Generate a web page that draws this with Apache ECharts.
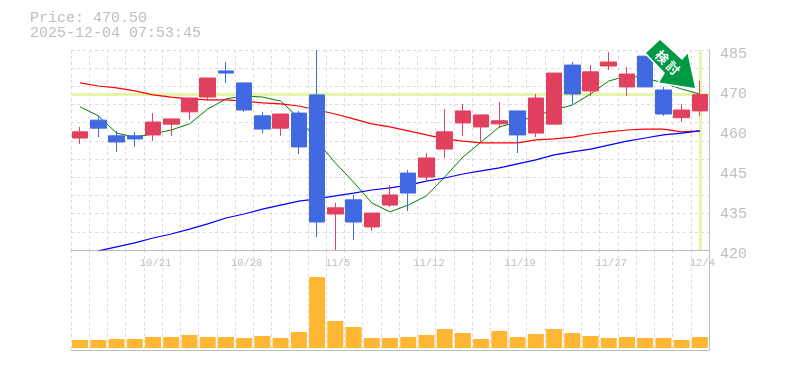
<!DOCTYPE html>
<html>
<head>
<meta charset="utf-8">
<style>html,body{margin:0;padding:0;background:#fff}#c{width:785px;height:370px}</style>
<script src="https://cdn.jsdelivr.net/npm/echarts@6/dist/echarts.min.js"></script>
</head>
<body>
<div id="c"></div>
<script>
const dates = ['10/15','10/16','10/17','10/20','10/21','10/22','10/23','10/24','10/27','10/28','10/29','10/30','10/31','11/4','11/5','11/6','11/7','11/10','11/11','11/12','11/13','11/14','11/17','11/18','11/19','11/20','11/21','11/25','11/26','11/27','11/28','12/1','12/2','12/3','12/4'];
const priceTicks = ['420','435','445','460','470','485'];
const opens  = [456.4,462.2,457.1,457.1,457.4,460.9,464.9,469.7,478.2,474.3,463.6,459.6,464.5,470.4,431.7,436.3,427.5,434.6,445.0,443.7,452.8,461.3,460.0,461.0,465.2,458.0,460.9,480.1,471.7,479.8,473.0,483.0,472.0,463.0,465.2];
const closes = [458.4,459.6,455.1,456.1,461.6,462.6,469.4,475.9,477.5,465.5,459.3,464.2,453.5,429.1,433.7,429.1,432.0,437.9,438.5,449.9,458.4,465.2,463.9,462.0,457.4,469.4,477.5,470.7,477.9,481.1,477.2,473.0,464.2,465.5,470.5];
const lows   = [454.5,456.7,451.9,453.5,455.4,457.1,462.3,468.4,474.3,464.9,458.0,457.1,451.2,424.2,420.0,423.3,426.2,434.0,432.7,442.1,449.9,457.1,454.8,459.6,451.5,456.7,460.9,467.5,470.1,478.5,470.1,473.0,463.6,461.6,463.6];
const highs  = [460.0,463.6,458.7,458.4,464.5,462.6,469.4,475.9,481.1,474.3,464.9,464.2,465.2,485.0,435.3,437.9,432.0,441.1,446.0,451.5,465.8,467.5,463.9,468.1,465.2,470.7,477.5,481.1,480.1,484.4,479.5,483.0,473.0,467.5,474.9];
const maShort = [466.5,463.6,458.0,456.7,457.7,459.0,461.0,465.8,469.1,470.1,469.7,468.4,462.9,455.4,448.3,442.1,435.3,432.4,434.6,437.6,443.7,450.2,455.1,460.0,461.6,463.6,465.5,467.1,470.7,474.9,476.6,475.9,474.3,472.3,470.7];
const maMid = [474.3,473.3,472.7,471.7,470.4,469.7,469.1,468.8,468.8,468.4,467.8,467.5,466.8,465.5,464.2,462.6,461.0,460.0,458.7,457.4,456.1,455.4,454.8,454.8,454.8,455.8,456.1,456.7,457.7,458.4,459.0,459.3,459.3,458.4,458.7];
const maLong = [null,419.7,421.0,422.3,423.9,425.2,426.8,428.5,430.4,431.7,433.3,434.6,435.9,436.6,437.6,438.5,439.5,440.2,441.1,442.4,443.4,444.7,445.7,446.7,448.0,449.3,450.9,451.9,452.8,454.1,455.4,456.4,457.4,458.0,458.7];
const volumes = [8,8,9,9,11,11,13,11,11,10,12,10,16,71,27,21,10,10,11,13,19,15,9,17,11,14,19,15,12,10,11,10,10,8,11];
const currentPrice = 470.5;
const headline = 'Price: 470.50\n2025-12-04 07:53:45';
const badge = ['検','討'];

const candles = dates.map((_, i) => [opens[i], closes[i], lows[i], highs[i]]);
const mono = '"Liberation Mono", monospace';
const gray = '#bdbdbd';
const textGray = '#bebebe';
const dash = { color: '#dcdcdc', width: 1, type: [3, 3] };

const chart = echarts.init(document.getElementById('c'), null, { renderer: 'canvas' });
chart.setOption({
  animation: false,
  backgroundColor: '#ffffff',
  title: {
    text: headline, left: 30, top: 11, padding: 0,
    textStyle: { fontFamily: mono, fontSize: 15, fontWeight: 'normal', color: textGray, lineHeight: 15 }
  },
  grid: [
    { left: 71, right: 76, top: 50, height: 200 },
    { left: 71, right: 76, top: 250, height: 100 }
  ],
  xAxis: [
    {
      type: 'category', gridIndex: 0, data: dates, boundaryGap: true,
      axisLine: { onZero: false, lineStyle: { color: gray, width: 1 } },
      axisTick: { show: false },
      axisLabel: {
        interval: (i) => i % 5 === 4, margin: 8, padding: [0, 0, 0, 5],
        fontFamily: mono, fontSize: 10.5, color: textGray
      },
      splitLine: { show: true, interval: 0, lineStyle: dash }
    },
    {
      type: 'category', gridIndex: 1, data: dates, boundaryGap: true,
      axisLine: { onZero: false, lineStyle: { color: gray, width: 1 } },
      axisTick: { show: false }, axisLabel: { show: false },
      splitLine: { show: true, interval: 0, lineStyle: dash }
    }
  ],
  yAxis: [
    { type: 'value', gridIndex: 0, min: 420, max: 485, show: false, scale: true },
    {
      type: 'value', gridIndex: 0, min: 0, max: 11, interval: 1, position: 'left',
      axisLine: { show: false }, axisTick: { show: false }, axisLabel: { show: false },
      splitLine: { show: true, lineStyle: dash }
    },
    {
      type: 'value', gridIndex: 0, min: 0, max: 5, interval: 1, position: 'right',
      axisLine: { show: true, lineStyle: { color: gray, width: 1 } },
      axisTick: { show: false }, splitLine: { show: false },
      axisLabel: {
        margin: 11, verticalAlign: 'top', lineHeight: 8,
        formatter: (v) => priceTicks[v], fontFamily: mono, fontSize: 15, color: textGray
      }
    },
    {
      type: 'value', gridIndex: 1, min: -2, max: 98, position: 'right',
      axisLine: { show: true, lineStyle: { color: gray, width: 1 } },
      axisTick: { show: false }, axisLabel: { show: false }, splitLine: { show: false }
    }
  ],
  series: [
    {
      type: 'line', name: 'guide', xAxisIndex: 0, yAxisIndex: 0, data: [], z: 1,
      markLine: {
        silent: true, symbol: 'none', z: 1, animation: false, label: { show: false },
        lineStyle: { color: '#e4f5aa', width: 3, type: 'solid' },
        data: [{ yAxis: currentPrice }, { xAxis: dates[dates.length - 1] }]
      }
    },
    { type: 'line', name: 'short', xAxisIndex: 0, yAxisIndex: 0, data: maShort, z: 2, symbol: 'none', lineStyle: { color: '#008000', width: 1 } },
    { type: 'line', name: 'mid', xAxisIndex: 0, yAxisIndex: 0, data: maMid, z: 2, symbol: 'none', lineStyle: { color: '#ff0000', width: 1.2 } },
    { type: 'line', name: 'long', xAxisIndex: 0, yAxisIndex: 0, data: maLong, z: 2, symbol: 'none', lineStyle: { color: '#0000ff', width: 1.2 } },
    {
      type: 'candlestick', name: 'price', xAxisIndex: 0, yAxisIndex: 0, data: candles, z: 3, barWidth: 16,
      itemStyle: { color: '#e2405f', color0: '#4169e1', borderColor: '#e2405f', borderColor0: '#4169e1', borderWidth: 1 }
    },
    {
      type: 'bar', name: 'volume', xAxisIndex: 1, yAxisIndex: 3, data: volumes, barWidth: 16,
      itemStyle: { color: '#ffb733' }
    }
  ],
  graphic: [
    {
      type: 'polygon', z: 100,
      shape: { points: [[660, 39], [682, 59], [688, 52], [696, 89], [658, 83], [664, 73], [645, 53]] },
      style: { fill: '#009944', stroke: '#ffffff', lineWidth: 1.5 }
    },
    {
      type: 'text', z: 101, x: 662, y: 57, rotation: -Math.PI / 4,
      style: { text: badge[0], fill: '#fff', font: 'bold 13px "Noto Sans CJK JP"', align: 'center', verticalAlign: 'middle' }
    },
    {
      type: 'text', z: 101, x: 673, y: 68, rotation: -Math.PI / 4,
      style: { text: badge[1], fill: '#fff', font: 'bold 13px "Noto Sans CJK JP"', align: 'center', verticalAlign: 'middle' }
    }
  ]
});
</script>
</body>
</html>
